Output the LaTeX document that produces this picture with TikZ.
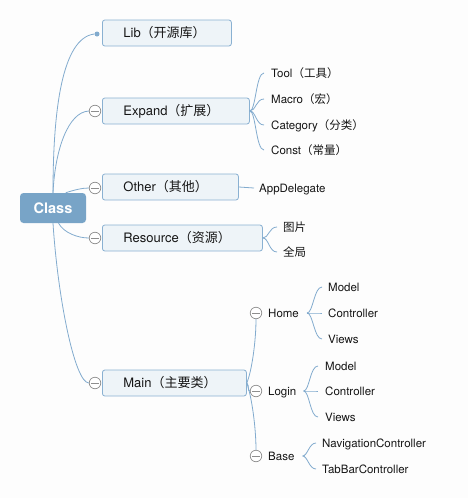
\documentclass[tikz,border=0pt]{standalone}
\usepackage{fontspec}
\setmainfont{TeX Gyre Heros}
\newfontfamily\cjk{Noto Sans CJK SC}
\definecolor{linec}{HTML}{82ABCE}
\definecolor{classc}{HTML}{78A4C7}
\definecolor{boxfill}{HTML}{EEF4F8}
\definecolor{boxborder}{HTML}{8AB1D2}
\definecolor{toggray}{HTML}{8E8E8E}
\definecolor{txt}{HTML}{151515}
\definecolor{bg}{HTML}{FDFDFD}
\begin{document}
\begin{tikzpicture}[x=1pt,y=-1pt,
  classn/.style={fill=classc, rounded corners=3.5pt, minimum width=66pt, minimum height=30pt, inner sep=0pt, text=white, text height=10.5pt, text depth=0pt, font=\fontsize{14.5}{16}\selectfont\bfseries},
  box/.style={draw=boxborder, fill=boxfill, rounded corners=2.5pt, line width=0.8pt, minimum height=26pt, inner xsep=21pt, inner ysep=0pt, align=left, anchor=west, text height=9.4pt, text depth=0pt, font=\fontsize{13}{15}\selectfont, text=txt},
  leaf/.style={anchor=west, inner xsep=6pt, inner ysep=0pt, text height=8.3pt, text depth=0pt, font=\fontsize{11.5}{13}\selectfont, text=txt},
  sub/.style={anchor=west, inner xsep=0pt, inner ysep=0pt, text height=8.3pt, text depth=0pt, font=\fontsize{11.5}{13}\selectfont, text=txt},
  tog/.style={circle, draw=toggray, fill=white, minimum size=11.5pt, inner sep=0pt, line width=0.7pt,
    path picture={\draw[toggray, line width=0.7pt] ([xshift=-3.8pt]path picture bounding box.center) -- ([xshift=3.8pt]path picture bounding box.center);}},
  dotn/.style={circle, fill=linec, minimum size=5pt, inner sep=0pt},
  conn/.style={draw=linec, line width=0.8pt}
]
\useasboundingbox (0,0) rectangle (468,498);
\fill[bg] (0,0) rectangle (468,498);

% central node
\node[classn] (cls) at (53,208) {Class};

% main branches
\node[box, text width=87pt] (lib) at (102,33) {Lib{\cjk （开源库）}};
\node[box, text width=105pt] (exp) at (102,111) {Expand{\cjk （扩展）}};
\node[box, text width=94pt] (oth) at (102,187) {Other{\cjk （其他）}};
\node[box, text width=118pt] (res) at (102,238) {Resource{\cjk （资源）}};
\node[box, text width=102pt] (mainb) at (102,383) {Main{\cjk （主要类）}};

\node[dotn] (libdot) at (97,34) {};
\node[tog] (texp) at (95,111) {};
\node[tog] (toth) at (95,188) {};
\node[tog] (tres) at (95,238) {};
\node[tog] (tmain) at (95,383) {};

% connectors from Class
\draw[conn] (cls.north) .. controls (53,110) and (62,38) .. (libdot.west);
\draw[conn] (cls.north) .. controls (55,150) and (68,112) .. (texp.west);
\draw[conn] (cls.50) .. controls (74,190) and (82,188) .. (toth.west);
\draw[conn] (cls.-70) .. controls (64,233) and (78,238) .. (tres.west);
\draw[conn] (cls.south) .. controls (58,300) and (75,383) .. (tmain.west);

% Expand leaves
\node[leaf, inner xsep=7pt] (tool) at (264,73) {Tool{\cjk （工具）}};
\node[leaf, inner xsep=7pt] (macro) at (264,99) {Macro{\cjk （宏）}};
\node[leaf, inner xsep=7pt] (cat) at (264,125) {Category{\cjk （分类）}};
\node[leaf, inner xsep=7pt] (const) at (264,150) {Const{\cjk （常量）}};
\foreach \c in {tool,macro,cat,const}
  \draw[conn] (exp.east) .. controls +(6,0) and +(-8,0) .. (\c.west);

% Other leaf
\node[leaf, inner xsep=5pt] (appd) at (254,188) {AppDelegate};
\draw[conn] (oth.east) -- (appd.west);

% Resource leaves
\node[leaf] (pic) at (277,227) {\cjk 图片};
\node[leaf] (glob) at (277,252) {\cjk 全局};
\foreach \c in {pic,glob}
  \draw[conn] (res.east) .. controls +(6,0) and +(-8,0) .. (\c.west);

% Main sub-branches
\node[tog] (thome) at (256,313) {};
\node[tog] (tlogin) at (256,391) {};
\node[tog] (tbase) at (256,456) {};
\node[sub] (home) at (268,313) {Home};
\node[sub] (login) at (268,391) {Login};
\node[sub] (base) at (268,456) {Base};

\draw[conn] (mainb.east) .. controls +(5,-12) and +(0,22) .. (thome.south);
\draw[conn] (mainb.east) .. controls +(3,3) and +(-3,0) .. (tlogin.west);
\draw[conn] (mainb.east) .. controls +(5,14) and +(0,-22) .. (tbase.north);

% Home leaves
\node[leaf] (hmodel) at (322,287) {Model};
\node[leaf] (hctrl) at (322,313) {Controller};
\node[leaf] (hviews) at (322,339) {Views};
\foreach \c in {hmodel,hctrl,hviews}
  \draw[conn] ([xshift=8pt]home.east) .. controls +(6,0) and +(-8,0) .. (\c.west);

% Login leaves
\node[leaf, inner xsep=7pt] (lmodel) at (318,366) {Model};
\node[leaf, inner xsep=7pt] (lctrl) at (318,391) {Controller};
\node[leaf, inner xsep=7pt] (lviews) at (318,417) {Views};
\foreach \c in {lmodel,lctrl,lviews}
  \draw[conn] ([xshift=7pt]login.east) .. controls +(6,0) and +(-8,0) .. (\c.west);

% Base leaves
\node[leaf] (nav) at (316,443) {NavigationController};
\node[leaf] (tab) at (316,469) {TabBarController};
\foreach \c in {nav,tab}
  \draw[conn] ([xshift=8pt]base.east) .. controls +(5,0) and +(-7,0) .. (\c.west);
\end{tikzpicture}
\end{document}
